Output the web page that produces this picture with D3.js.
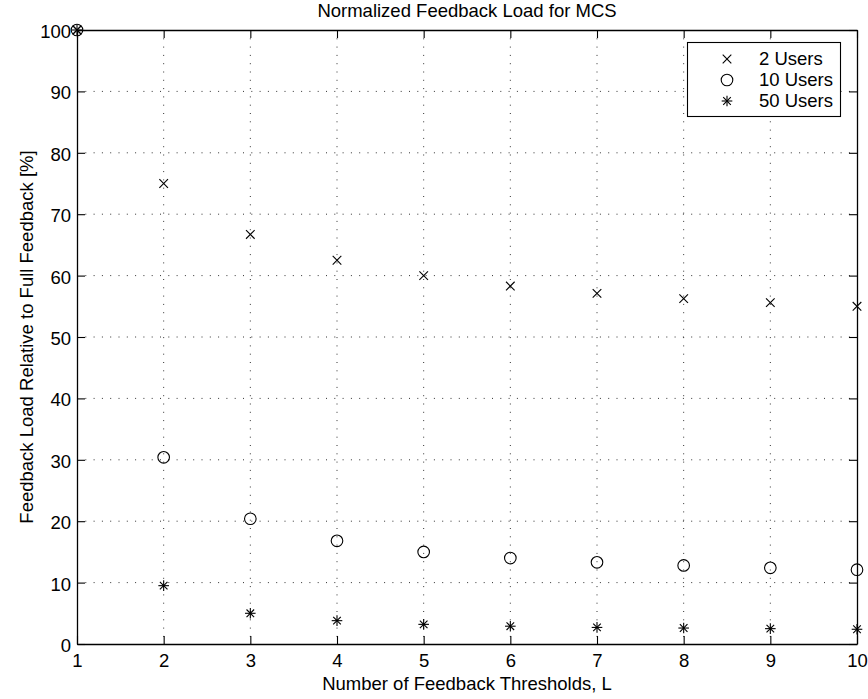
<!DOCTYPE html>
<html>
<head>
<meta charset="utf-8">
<script src="https://cdn.jsdelivr.net/npm/d3@7"></script>
<style>
  html, body { margin: 0; padding: 0; background: #fff; }
  svg { display: block; font-family: "Liberation Sans", Arial, Helvetica, sans-serif; }
</style>
</head>
<body>
<svg id="chart" width="868" height="699"></svg>
<script>
// Number of feedback thresholds L
const thresholds = [1, 2, 3, 4, 5, 6, 7, 8, 9, 10];

// Feedback load relative to full feedback [%]
const users2  = [100, 75.0, 66.7, 62.5, 60.0, 58.3, 57.1, 56.25, 55.6, 55.0];
const users10 = [100, 30.4, 20.4, 16.8, 15.0, 14.0, 13.3, 12.8, 12.4, 12.1];
const users50 = [100, 9.5, 5.0, 3.8, 3.2, 2.9, 2.7, 2.6, 2.5, 2.4];

const xTicks = [1, 2, 3, 4, 5, 6, 7, 8, 9, 10];
const yTicks = [0, 10, 20, 30, 40, 50, 60, 70, 80, 90, 100];

const seriesNames = ["2 Users", "10 Users", "50 Users"];
const seriesMarkers = ["x", "o", "*"];
const seriesValues = [users2, users10, users50];

const svg = d3.select("#chart");
const margin = { left: 77, right: 11, top: 30, bottom: 55 };
const W = 868, H = 699;
const x = d3.scaleLinear().domain([1, 10]).range([margin.left, W - margin.right]);
const y = d3.scaleLinear().domain([0, 100]).range([H - margin.bottom, margin.top]);
const FS = "18.5px";
const tickLen = 8;

// dotted grid
const grid = svg.append("g").attr("stroke", "#333").attr("stroke-width", 1)
  .attr("stroke-dasharray", "1,7.3").attr("fill", "none");
grid.selectAll("line.v").data(xTicks.slice(1, -1)).join("line")
  .attr("x1", d => x(d)).attr("x2", d => x(d))
  .attr("y1", y(100)).attr("y2", y(0));
grid.selectAll("line.h").data(yTicks.slice(1, -1)).join("line")
  .attr("x1", x(1)).attr("x2", x(10))
  .attr("y1", d => y(d)).attr("y2", d => y(d));

// boxed axes with inward ticks on all sides
const axB = svg.append("g").attr("transform", `translate(0,${y(0)})`)
  .call(d3.axisBottom(x).tickValues(xTicks).tickSizeInner(-tickLen).tickSizeOuter(0).tickPadding(10));
const axT = svg.append("g").attr("transform", `translate(0,${y(100)})`)
  .call(d3.axisTop(x).tickValues(xTicks).tickSizeInner(-tickLen).tickSizeOuter(0).tickFormat(""));
const axL = svg.append("g").attr("transform", `translate(${x(1)},0)`)
  .call(d3.axisLeft(y).tickValues(yTicks).tickSizeInner(-tickLen).tickSizeOuter(0).tickPadding(6));
const axR = svg.append("g").attr("transform", `translate(${x(10)},0)`)
  .call(d3.axisRight(y).tickValues(yTicks).tickSizeInner(-tickLen).tickSizeOuter(0).tickFormat(""));

[axB, axT, axL, axR].forEach(a => {
  a.select(".domain").attr("stroke", "#000").attr("stroke-width", 1.3);
  a.selectAll(".tick line").attr("stroke", "#000").attr("stroke-width", 1.1);
  a.selectAll("text").attr("font-size", FS).attr("fill", "#000")
    .attr("font-family", "'Liberation Sans', Arial, Helvetica, sans-serif");
});
axL.selectAll("text").attr("dy", "0.4em");

// marker drawing
function drawMarker(g, type, cx, cy) {
  const s = g.append("g").attr("transform", `translate(${cx},${cy})`)
    .attr("stroke", "#000").attr("fill", "none").attr("stroke-width", 1.1);
  if (type === "x") {
    const r = 4.3;
    s.append("line").attr("x1", -r).attr("y1", -r).attr("x2", r).attr("y2", r);
    s.append("line").attr("x1", -r).attr("y1", r).attr("x2", r).attr("y2", -r);
  } else if (type === "o") {
    s.append("circle").attr("r", 5.8);
  } else {
    const r = 5.3, d = 3.8;
    s.append("line").attr("x1", -r).attr("y1", 0).attr("x2", r).attr("y2", 0);
    s.append("line").attr("x1", 0).attr("y1", -r).attr("x2", 0).attr("y2", r);
    s.append("line").attr("x1", -d).attr("y1", -d).attr("x2", d).attr("y2", d);
    s.append("line").attr("x1", -d).attr("y1", d).attr("x2", d).attr("y2", -d);
  }
}

const marks = svg.append("g");
seriesValues.forEach((vals, i) => {
  vals.forEach((v, j) => drawMarker(marks, seriesMarkers[i], x(thresholds[j]), y(v)));
});

// title and axis labels
svg.append("text").attr("x", (x(1) + x(10)) / 2).attr("y", 17)
  .attr("text-anchor", "middle").attr("font-size", FS)
  .text("Normalized Feedback Load for MCS");
svg.append("text").attr("x", (x(1) + x(10)) / 2).attr("y", 690)
  .attr("text-anchor", "middle").attr("font-size", FS)
  .text("Number of Feedback Thresholds, L");
svg.append("text")
  .attr("transform", `translate(33,${(y(0) + y(100)) / 2}) rotate(-90)`)
  .attr("text-anchor", "middle").attr("font-size", FS)
  .text("Feedback Load Relative to Full Feedback [%]");

// legend
const lg = svg.append("g");
lg.append("rect").attr("x", 687.5).attr("y", 42.5).attr("width", 153).attr("height", 74)
  .attr("fill", "#fff").attr("stroke", "#000").attr("stroke-width", 1.1);
seriesNames.forEach((name, i) => {
  const cy = 59 + i * 21;
  drawMarker(lg, seriesMarkers[i], 727, cy);
  lg.append("text").attr("x", 759).attr("y", cy).attr("dy", "0.35em")
    .attr("font-size", FS).text(name);
});
</script>
</body>
</html>
